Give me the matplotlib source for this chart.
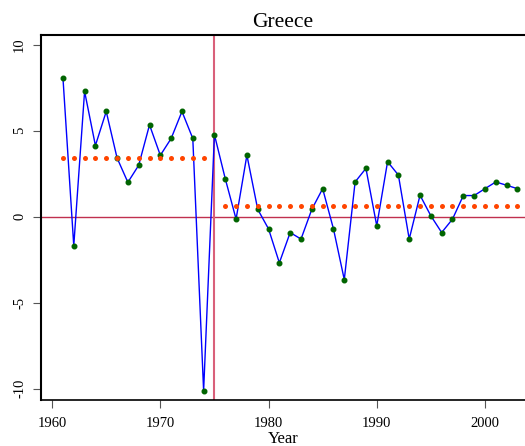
import matplotlib
matplotlib.use("Agg")
import matplotlib.pyplot as plt

years = list(range(1961, 2004))
growth = [8.09, -1.69, 7.29, 4.14, 6.12, 3.42, 2.00, 2.99, 5.34, 3.57,
          4.55, 6.12, 4.55, -10.12, 4.77, 2.21, -0.14, 3.58, 0.43, -0.71,
          -2.68, -0.92, -1.30, 0.43, 1.63, -0.71, -3.66, 2.02, 2.81, -0.53,
          3.20, 2.42, -1.30, 1.25, 0.05, -0.92, -0.14, 1.23, 1.23, 1.63,
          2.02, 1.83, 1.63]
mean_years_1 = list(range(1961, 1975))
mean_value_1 = 3.40
mean_years_2 = list(range(1976, 2004))
mean_value_2 = 0.65
break_year = 1975
xticks = [1960, 1970, 1980, 1990, 2000]
yticks = [-10, -5, 0, 5, 10]

plt.rcParams['font.family'] = ['Liberation Serif', 'DejaVu Serif']

fig = plt.figure(figsize=(5.25, 4.46), dpi=100)
ax = fig.add_axes([41.3 / 525, 1 - 400 / 446, 1 - 41.3 / 525, (400 - 35.3) / 446])

ax.axhline(0, color='#c0304f', lw=1.0, zorder=1)
ax.axvline(break_year, color='#d9607a', lw=1.5, zorder=1)

ax.plot(years, growth, color='#0000ff', lw=1.0, zorder=2)
ax.plot(years, growth, linestyle='none', marker='o', markersize=3.3,
        color='#006400', zorder=3)
ax.plot(mean_years_1, [mean_value_1] * len(mean_years_1), linestyle='none',
        marker='o', markersize=3.6, color='#ff4500', markeredgewidth=0, zorder=4)
ax.plot(mean_years_2, [mean_value_2] * len(mean_years_2), linestyle='none',
        marker='o', markersize=3.6, color='#ff4500', markeredgewidth=0, zorder=4)

ax.set_xlim(1959.0, 2003.7)
ax.set_ylim(-10.66, 10.55)
ax.set_xticks(xticks)
ax.set_yticks(yticks)
ax.set_xticklabels([str(t) for t in xticks], fontsize=10.5)
ax.set_yticklabels([str(t) for t in yticks], fontsize=10.5, rotation=90, va='center')
ax.tick_params(axis='both', direction='out', length=6, width=0.8, color='#555555')
ax.tick_params(axis='y', pad=5)
ax.tick_params(axis='x', pad=6)

ax.spines['right'].set_visible(False)
ax.spines['left'].set_linewidth(1.5)
ax.spines['top'].set_linewidth(1.5)
ax.spines['bottom'].set_linewidth(1.2)

ax.set_title('Greece', fontsize=15.5, pad=6)
ax.set_xlabel('Year', fontsize=12, labelpad=1)

fig.savefig('out.png', dpi=100)
